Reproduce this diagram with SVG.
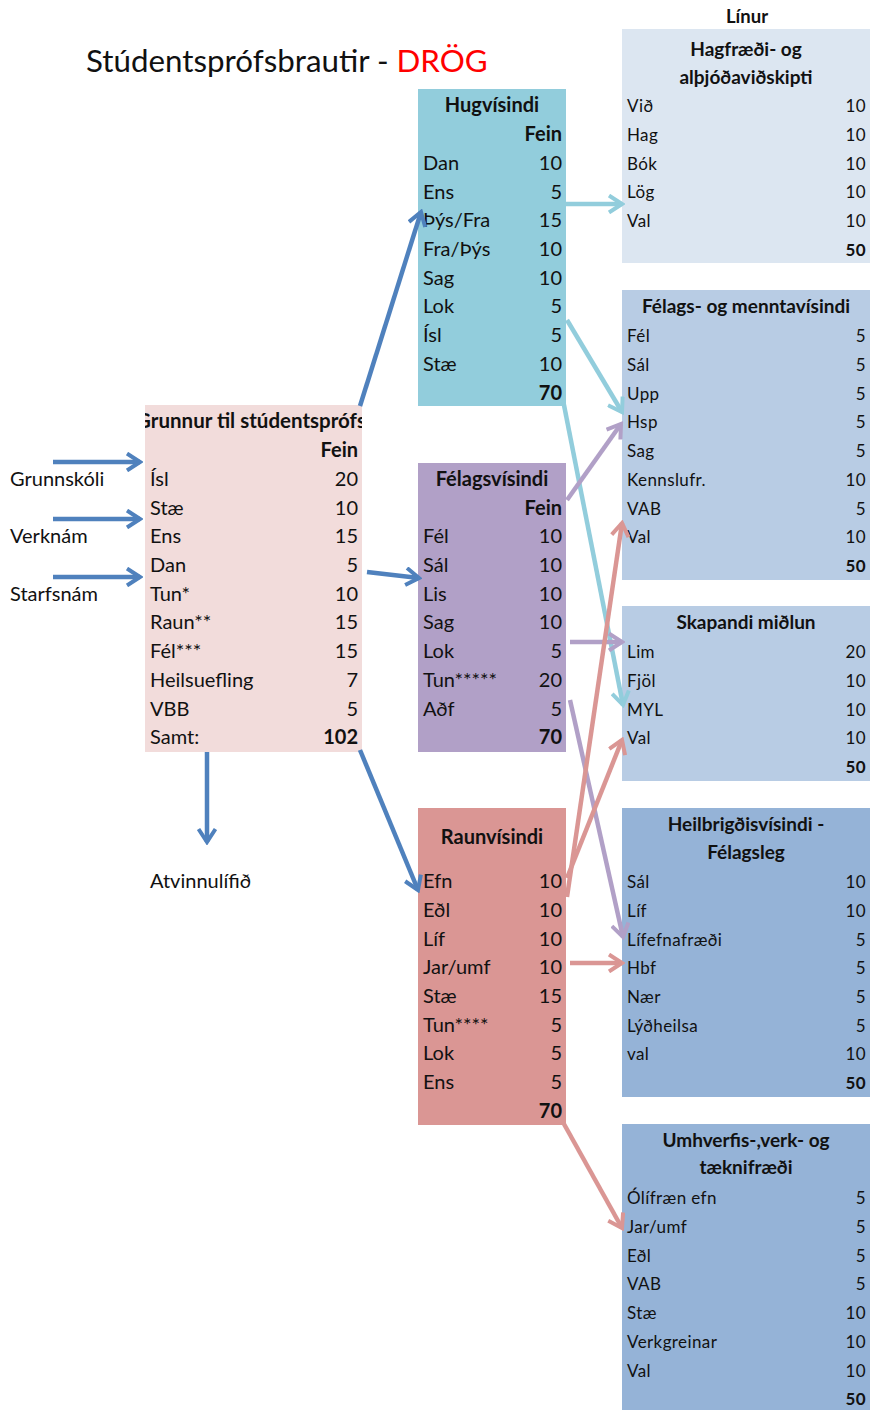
<svg xmlns="http://www.w3.org/2000/svg" width="870" height="1410" viewBox="0 0 870 1410">
<style>
text{font-family:Lato,"Open Sans","Liberation Sans",sans-serif;fill:#111}
.l{font-size:20px}
.lb{font-size:20px;font-weight:bold}
.r{font-size:17px;letter-spacing:0.4px}
.rb{font-size:19px;font-weight:bold}
.e{text-anchor:end}
.m{text-anchor:middle}
.a{fill:none;stroke-width:4.5}
</style>
<defs>
<marker id="mB" viewBox="0 0 20 20" refX="17" refY="10" markerWidth="20" markerHeight="20" markerUnits="userSpaceOnUse" orient="auto"><path d="M4,1.5 L17,10 L4,18.5" fill="none" stroke="#4F81BD" stroke-width="4"/></marker>
<marker id="mC" viewBox="0 0 20 20" refX="17" refY="10" markerWidth="20" markerHeight="20" markerUnits="userSpaceOnUse" orient="auto"><path d="M4,1.5 L17,10 L4,18.5" fill="none" stroke="#92CDDC" stroke-width="4"/></marker>
<marker id="mP" viewBox="0 0 20 20" refX="17" refY="10" markerWidth="20" markerHeight="20" markerUnits="userSpaceOnUse" orient="auto"><path d="M4,1.5 L17,10 L4,18.5" fill="none" stroke="#B1A0C7" stroke-width="4"/></marker>
<marker id="mR" viewBox="0 0 20 20" refX="17" refY="10" markerWidth="20" markerHeight="20" markerUnits="userSpaceOnUse" orient="auto"><path d="M4,1.5 L17,10 L4,18.5" fill="none" stroke="#DA9694" stroke-width="4"/></marker>
<clipPath id="gclip"><rect x="145" y="405" width="217" height="347"/></clipPath>
</defs>
<rect width="870" height="1410" fill="#fff"/>

<text x="86" y="72" style="font-size:31.3px">Stúdentsprófsbrautir - <tspan fill="#FF0000">DRÖG</tspan></text>
<text x="747" y="23" class="m" style="font-size:18.5px;font-weight:bold">Línur</text>

<g id="grunnur">
<rect x="145" y="405" width="217" height="347" fill="#F2DCDB"/>
<text x="251" y="428" class="lb m" style="font-size:20.5px" clip-path="url(#gclip)">Grunnur til stúdentsprófs</text>
<text x="358" y="457" class="lb e">Fein</text>
<text x="150" y="486" class="l">Ísl</text><text x="358" y="486" class="l e">20</text>
<text x="150" y="515" class="l">Stæ</text><text x="358" y="515" class="l e">10</text>
<text x="150" y="543" class="l">Ens</text><text x="358" y="543" class="l e">15</text>
<text x="150" y="572" class="l">Dan</text><text x="358" y="572" class="l e">5</text>
<text x="150" y="601" class="l">Tun*</text><text x="358" y="601" class="l e">10</text>
<text x="150" y="629" class="l">Raun**</text><text x="358" y="629" class="l e">15</text>
<text x="150" y="658" class="l">Fél***</text><text x="358" y="658" class="l e">15</text>
<text x="150" y="687" class="l">Heilsuefling</text><text x="358" y="687" class="l e">7</text>
<text x="150" y="716" class="l">VBB</text><text x="358" y="716" class="l e">5</text>
<text x="150" y="744" class="l">Samt:</text><text x="358" y="744" class="lb e">102</text>
</g>

<g id="grunnskoli"><text x="10" y="486" class="l">Grunnskóli</text></g>
<g id="verknam"><text x="10" y="543" class="l">Verknám</text></g>
<g id="starfsnam"><text x="10" y="601" class="l">Starfsnám</text></g>
<g id="atvinnulif"><text x="150" y="888" class="l">Atvinnulífið</text></g>

<g id="hugvisindi">
<rect x="418" y="89" width="148" height="317" fill="#92CDDC"/>
<text x="492" y="112" class="lb m">Hugvísindi</text>
<text x="562" y="141" class="lb e">Fein</text>
<text x="423" y="170" class="l">Dan</text><text x="562" y="170" class="l e">10</text>
<text x="423" y="199" class="l">Ens</text><text x="562" y="199" class="l e">5</text>
<text x="423" y="227" class="l">Þýs/Fra</text><text x="562" y="227" class="l e">15</text>
<text x="423" y="256" class="l">Fra/Þýs</text><text x="562" y="256" class="l e">10</text>
<text x="423" y="285" class="l">Sag</text><text x="562" y="285" class="l e">10</text>
<text x="423" y="313" class="l">Lok</text><text x="562" y="313" class="l e">5</text>
<text x="423" y="342" class="l">Ísl</text><text x="562" y="342" class="l e">5</text>
<text x="423" y="371" class="l">Stæ</text><text x="562" y="371" class="l e">10</text>
<text x="562" y="400" class="lb e">70</text>
</g>

<g id="felagsvisindi">
<rect x="418" y="463" width="148" height="289" fill="#B1A0C7"/>
<text x="492" y="486" class="lb m">Félagsvísindi</text>
<text x="562" y="515" class="lb e">Fein</text>
<text x="423" y="543" class="l">Fél</text><text x="562" y="543" class="l e">10</text>
<text x="423" y="572" class="l">Sál</text><text x="562" y="572" class="l e">10</text>
<text x="423" y="601" class="l">Lis</text><text x="562" y="601" class="l e">10</text>
<text x="423" y="629" class="l">Sag</text><text x="562" y="629" class="l e">10</text>
<text x="423" y="658" class="l">Lok</text><text x="562" y="658" class="l e">5</text>
<text x="423" y="687" class="l">Tun*****</text><text x="562" y="687" class="l e">20</text>
<text x="423" y="716" class="l">Aðf</text><text x="562" y="716" class="l e">5</text>
<text x="562" y="744" class="lb e">70</text>
</g>

<g id="raunvisindi">
<rect x="418" y="808" width="148" height="317" fill="#DA9694"/>
<text x="492" y="844" class="lb m">Raunvísindi</text>
<text x="423" y="888" class="l">Efn</text><text x="562" y="888" class="l e">10</text>
<text x="423" y="917" class="l">Eðl</text><text x="562" y="917" class="l e">10</text>
<text x="423" y="946" class="l">Líf</text><text x="562" y="946" class="l e">10</text>
<text x="423" y="974" class="l">Jar/umf</text><text x="562" y="974" class="l e">10</text>
<text x="423" y="1003" class="l">Stæ</text><text x="562" y="1003" class="l e">15</text>
<text x="423" y="1032" class="l">Tun****</text><text x="562" y="1032" class="l e">5</text>
<text x="423" y="1060" class="l">Lok</text><text x="562" y="1060" class="l e">5</text>
<text x="423" y="1089" class="l">Ens</text><text x="562" y="1089" class="l e">5</text>
<text x="562" y="1118" class="lb e">70</text>
</g>

<g id="hagfraedi">
<rect x="622" y="29" width="248" height="234" fill="#DCE6F1"/>
<text x="746" y="56" class="rb m">Hagfræði- og</text>
<text x="746" y="84" class="rb m">alþjóðaviðskipti</text>
<text x="627" y="112" class="r">Við</text><text x="866" y="112" class="r e">10</text>
<text x="627" y="141" class="r">Hag</text><text x="866" y="141" class="r e">10</text>
<text x="627" y="170" class="r">Bók</text><text x="866" y="170" class="r e">10</text>
<text x="627" y="198" class="r">Lög</text><text x="866" y="198" class="r e">10</text>
<text x="627" y="227" class="r">Val</text><text x="866" y="227" class="r e">10</text>
<text x="866" y="256" class="r e" style="font-weight:bold">50</text>
</g>

<g id="felagsmennta">
<rect x="622" y="290" width="248" height="290" fill="#B8CCE4"/>
<text x="746" y="313" class="rb m">Félags- og menntavísindi</text>
<text x="627" y="342" class="r">Fél</text><text x="866" y="342" class="r e">5</text>
<text x="627" y="371" class="r">Sál</text><text x="866" y="371" class="r e">5</text>
<text x="627" y="400" class="r">Upp</text><text x="866" y="400" class="r e">5</text>
<text x="627" y="428" class="r">Hsp</text><text x="866" y="428" class="r e">5</text>
<text x="627" y="457" class="r">Sag</text><text x="866" y="457" class="r e">5</text>
<text x="627" y="486" class="r">Kennslufr.</text><text x="866" y="486" class="r e">10</text>
<text x="627" y="515" class="r">VAB</text><text x="866" y="515" class="r e">5</text>
<text x="627" y="543" class="r">Val</text><text x="866" y="543" class="r e">10</text>
<text x="866" y="572" class="r e" style="font-weight:bold">50</text>
</g>

<g id="skapandi">
<rect x="622" y="606" width="248" height="175" fill="#B8CCE4"/>
<text x="746" y="629" class="rb m">Skapandi miðlun</text>
<text x="627" y="658" class="r">Lim</text><text x="866" y="658" class="r e">20</text>
<text x="627" y="687" class="r">Fjöl</text><text x="866" y="687" class="r e">10</text>
<text x="627" y="716" class="r">MYL</text><text x="866" y="716" class="r e">10</text>
<text x="627" y="744" class="r">Val</text><text x="866" y="744" class="r e">10</text>
<text x="866" y="773" class="r e" style="font-weight:bold">50</text>
</g>

<g id="heilbrigdi">
<rect x="622" y="808" width="248" height="289" fill="#95B3D7"/>
<text x="746" y="831" class="rb m">Heilbrigðisvísindi -</text>
<text x="746" y="859" class="rb m">Félagsleg</text>
<text x="627" y="888" class="r">Sál</text><text x="866" y="888" class="r e">10</text>
<text x="627" y="917" class="r">Líf</text><text x="866" y="917" class="r e">10</text>
<text x="627" y="946" class="r">Lífefnafræði</text><text x="866" y="946" class="r e">5</text>
<text x="627" y="974" class="r">Hbf</text><text x="866" y="974" class="r e">5</text>
<text x="627" y="1003" class="r">Nær</text><text x="866" y="1003" class="r e">5</text>
<text x="627" y="1032" class="r">Lýðheilsa</text><text x="866" y="1032" class="r e">5</text>
<text x="627" y="1060" class="r">val</text><text x="866" y="1060" class="r e">10</text>
<text x="866" y="1089" class="r e" style="font-weight:bold">50</text>
</g>

<g id="umhverfis">
<rect x="622" y="1124" width="248" height="286" fill="#95B3D7"/>
<text x="746" y="1147" class="rb m">Umhverfis-,verk- og</text>
<text x="746" y="1174" class="rb m">tæknifræði</text>
<text x="627" y="1204" class="r">Ólífræn efn</text><text x="866" y="1204" class="r e">5</text>
<text x="627" y="1233" class="r">Jar/umf</text><text x="866" y="1233" class="r e">5</text>
<text x="627" y="1262" class="r">Eðl</text><text x="866" y="1262" class="r e">5</text>
<text x="627" y="1290" class="r">VAB</text><text x="866" y="1290" class="r e">5</text>
<text x="627" y="1319" class="r">Stæ</text><text x="866" y="1319" class="r e">10</text>
<text x="627" y="1348" class="r">Verkgreinar</text><text x="866" y="1348" class="r e">10</text>
<text x="627" y="1377" class="r">Val</text><text x="866" y="1377" class="r e">10</text>
<text x="866" y="1405" class="r e" style="font-weight:bold">50</text>
</g>

<g id="connectors">
<line class="a" stroke="#4F81BD" x1="53" y1="462" x2="140" y2="462" marker-end="url(#mB)"/>
<line class="a" stroke="#4F81BD" x1="53" y1="519" x2="140" y2="519" marker-end="url(#mB)"/>
<line class="a" stroke="#4F81BD" x1="53" y1="577" x2="140" y2="577" marker-end="url(#mB)"/>
<line class="a" stroke="#4F81BD" x1="367" y1="572" x2="419" y2="578" marker-end="url(#mB)"/>
<line class="a" stroke="#4F81BD" x1="360" y1="406" x2="421" y2="212" marker-end="url(#mB)"/>
<line class="a" stroke="#4F81BD" x1="360" y1="750" x2="418" y2="890" marker-end="url(#mB)"/>
<line class="a" stroke="#4F81BD" x1="207" y1="752" x2="207" y2="842" marker-end="url(#mB)"/>
<line class="a" stroke="#92CDDC" x1="566" y1="204" x2="622" y2="204" marker-end="url(#mC)"/>
<line class="a" stroke="#92CDDC" x1="567" y1="320" x2="622" y2="412" marker-end="url(#mC)"/>
<line class="a" stroke="#92CDDC" x1="563" y1="400" x2="623" y2="705" marker-end="url(#mC)"/>
<line class="a" stroke="#B1A0C7" x1="567" y1="500" x2="621" y2="424" marker-end="url(#mP)"/>
<line class="a" stroke="#B1A0C7" x1="570" y1="642" x2="622" y2="642" marker-end="url(#mP)"/>
<line class="a" stroke="#B1A0C7" x1="570" y1="700" x2="623" y2="937" marker-end="url(#mP)"/>
<line class="a" stroke="#DA9694" x1="567" y1="897" x2="622" y2="523" marker-end="url(#mR)"/>
<line class="a" stroke="#DA9694" x1="567" y1="878" x2="622" y2="740" marker-end="url(#mR)"/>
<line class="a" stroke="#DA9694" x1="570" y1="963" x2="622" y2="963" marker-end="url(#mR)"/>
<line class="a" stroke="#DA9694" x1="564" y1="1124" x2="622" y2="1228" marker-end="url(#mR)"/>
</g>
</svg>
